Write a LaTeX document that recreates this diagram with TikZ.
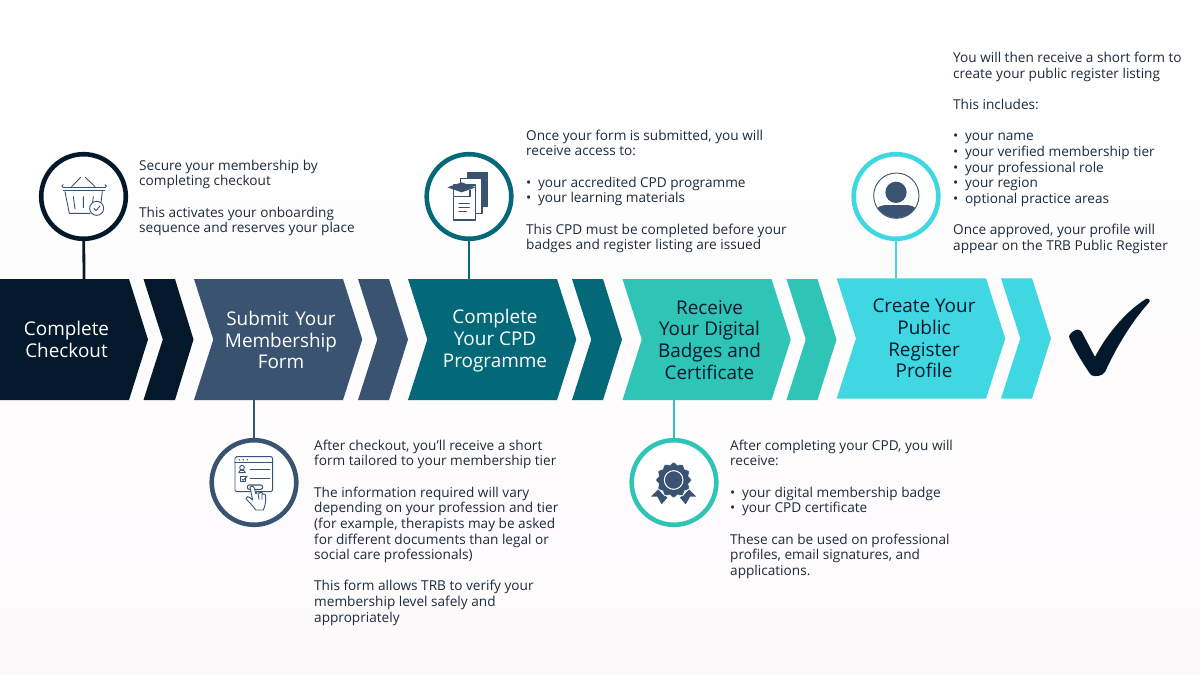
\documentclass[tikz,border=0pt]{standalone}
\usepackage{fontspec}
\setmainfont{Open Sans}
\definecolor{navy}{HTML}{03182B}
\definecolor{slate}{HTML}{3A5370}
\definecolor{tealc}{HTML}{036878}
\definecolor{greenc}{HTML}{2EC4B6}
\definecolor{cyanc}{HTML}{3FD8E2}
\definecolor{bodyc}{HTML}{1C2B3A}
\definecolor{bgmid}{HTML}{FDFCFB}
\definecolor{bgend}{HTML}{FDFAFC}
\newcommand{\chev}[5]{% left x, top y, bottom y, color, main width
 \pgfmathsetmacro{\ymid}{(#2+#3)/2}
 \fill[#4] (#1,#2) -- (#1+#5,#2) -- (#1+#5+19.3,\ymid) -- (#1+#5,#3) -- (#1,#3) -- (#1+19.3,\ymid) -- cycle;
 \fill[#4] (#1+#5+15,#2) -- (#1+#5+46,#2) -- (#1+#5+65,\ymid) -- (#1+#5+46,#3) -- (#1+#5+15,#3) -- (#1+#5+34.3,\ymid) -- cycle;
}
\newcommand{\bul}{\makebox[11.8pt][l]{•}}
\tikzset{
 x=1pt,y=-1pt,
 ring/.style={circle,draw=#1,line width=4.6pt,fill=white,minimum size=84.6pt,inner sep=0pt},
 link/.style={draw=#1,line width=2.8pt},
 title/.style={align=center,font=\fontsize{18.9}{21.8}\selectfont,text=#1,inner sep=0pt},
 body/.style={align=left,anchor=north west,inner sep=0pt,text=bodyc,font=\fontsize{13.62}{15.65}\selectfont},
 icon/.style={draw=slate,line width=0.9pt,line cap=round,line join=round},
 solid/.style={fill=slate,draw=none}
}
\begin{document}
\begin{tikzpicture}
\useasboundingbox (0,0) rectangle (1200,675);
\shade[top color=white,middle color=bgmid,bottom color=bgend] (0,0) rectangle (1200,675);

% chevrons
\fill[navy] (0,279) -- (129,279) -- (148,339.5) -- (129,400) -- (0,400) -- cycle;
\fill[navy] (143.5,279) -- (175,279) -- (193.5,339.5) -- (175,400) -- (143.5,400) -- (162.8,339.5) -- cycle;
\chev{194}{279}{400}{slate}{149}
\chev{408}{279}{400}{tealc}{149}
\chev{622.5}{279}{400}{greenc}{149}
\chev{836.7}{278.3}{398.5}{cyanc}{149.3}

% titles
\node[title=white] (s1) at (66.5,339.5) {Complete\\Checkout};
\node[title=white] (s2) at (281,340) {Submit\hspace{1.5pt} Your\\Membership\\Form};
\node[title=white] (s3) at (495,340.5) {Complete\\Your CPD\\Programme};
\node[title=navy] (s4) at (709.5,340) {Receive\\Your Digital\\Badges and\\Certificate};
\node[title=navy] (s5) at (924,338.5) {Create Your\\Public\\Register\\Profile};

% anchor points on the chevrons
\coordinate (a1) at (84,279);
\coordinate (a2) at (254,400);
\coordinate (a3) at (469,279);
\coordinate (a4) at (674,400);
\coordinate (a5) at (896,278.3);

% circles
\node[ring=navy] (c1) at (83.5,196.5) {};
\node[ring=slate] (c2) at (254,482.5) {};
\node[ring=tealc] (c3) at (469,196.5) {};
\node[ring=greenc] (c4) at (674,482.5) {};
\node[ring=cyanc] (c5) at (896,196.5) {};

\draw[link=navy] (c1) -- (a1);
\draw[link=slate] (c2) -- (a2);
\draw[link=tealc] (c3) -- (a3);
\draw[link=greenc] (c4) -- (a4);
\draw[link=cyanc] (c5) -- (a5);

% basket icon
\begin{scope}[shift={(30,145)},scale=0.33333]
 \draw[icon] (100,128) -- (225,128) (100,137) -- (225,137);
 \draw[icon] (100,128) arc (90:270:4.5);
 \draw[icon] (225,128) arc (90:-90:4.5);
 \draw[icon] (125,125) -- (152,97) (166,97) -- (195,125);
 \draw[icon] (105,140) -- (118,205) -- (180,205);
 \draw[icon] (217,140) -- (213,172);
 \draw[icon] (130,155) -- (135,192) (160,155) -- (160,188) (190,155) -- (188,170);
 \draw[icon,fill=white] (200,190) circle (21);
 \draw[icon] (192,190) -- (198,197) -- (210,183);
\end{scope}

% graduation icon
\begin{scope}[shift={(415,145)},scale=0.33333]
 \fill[slate] (155,82) rectangle (220,185);
 \draw[icon,fill=white,line width=1.1pt] (137,100) rectangle (201,206);
 \draw[icon,fill=white,line width=1.1pt] (116,120) rectangle (182,225);
 \draw[icon,fill=white,line width=1.1pt] (115,135) -- (115,155) -- (165,155) -- (165,135);
 \fill[slate] (97,127) -- (140,112) -- (182,127) -- (140,142) -- cycle;
 \draw[icon,line width=1.1pt] (132,175) -- (163,175) (132,187) -- (163,187) (132,200) -- (155,200);
\end{scope}

% form icon
\begin{scope}[shift={(200,430)},scale=0.33333]
 \draw[icon,rounded corners=1.5pt] (105,80) rectangle (218,185);
 \draw[icon] (105,98) -- (218,98);
 \fill[slate] (118,89) circle (2.5) (130,89) circle (2.5) (142,89) circle (2.5);
 \draw[icon] (126,113) circle (7);
 \draw[icon] (116,128) .. controls (116,118) and (136,118) .. (136,128) -- cycle;
 \draw[icon] (150,118) -- (210,118) (150,145) -- (210,145);
 \draw[icon] (120,140) rectangle (136,155);
 \draw[icon] (126,148) -- (130,151) -- (142,138);
 \draw[icon,fill=white,rounded corners=2pt,line width=1.1pt] (142,165) rectangle (188,178);
 \draw[icon,fill=white] (150,172) .. controls (152,166) and (160,166) .. (162,172) -- (168,192)
   -- (170,186) .. controls (173,182) and (177,184) .. (178,190) -- (181,188) .. controls (185,185) and (188,188) .. (189,193)
   .. controls (192,190) and (197,192) .. (197,197) .. controls (198,215) and (195,228) .. (190,240)
   -- (167,240) .. controls (160,228) and (148,218) .. (138,206) .. controls (137,198) and (146,198) .. (151,204) -- (158,210) -- cycle;
 \draw[icon] (174,190) -- (177,208) (186,192) -- (186,208);
\end{scope}

% badge icon
\begin{scope}[shift={(620,430)},scale=0.33333]
 \fill[slate] (115,178) -- (93,200) -- (112,200) -- (125,223) -- (142,203) -- cycle;
 \fill[slate] (207,178) -- (229,200) -- (210,200) -- (197,223) -- (180,203) -- cycle;
 \draw[white,line width=0.8pt] (112,172) -- (135,198) (210,172) -- (187,198);
 \fill[slate,draw=white,line width=0.5pt] plot[smooth cycle,samples=48,domain=0:352.5,variable=\t]
   ({161+(50+4*cos(12*\t))*cos(\t)},{150+(50+4*cos(12*\t))*sin(\t)});
 \draw[white,line width=1pt] (161,150) circle (28);
\end{scope}

% user icon
\begin{scope}[shift={(840,145)},scale=0.33333]
 \draw[slate,line width=0.9pt] (169,152) circle (68);
 \fill[slate] (168,142) circle (32);
 \begin{scope}
  \clip (169,152) circle (67);
  \fill[slate] (105,225) -- (108,195) .. controls (115,184) and (125,180) .. (135,180) -- (203,180) .. controls (213,180) and (223,184) .. (230,195) -- (233,225) -- cycle;
 \end{scope}
\end{scope}

% check mark
\fill[navy,rounded corners=1pt] (1081.5,331.5) .. controls (1079,329) and (1076,329.5) .. (1074,331) .. controls (1072,332) and (1069.5,334) .. (1069,337)
  .. controls (1072,345) and (1083,364) .. (1091,375) .. controls (1095,377) and (1103,376) .. (1105.5,371)
  .. controls (1116,348) and (1132,321) .. (1149.5,302) .. controls (1150,300) and (1148.5,298) .. (1146,299)
  .. controls (1128,310) and (1108,332) .. (1095,357) -- cycle;

% texts
\node[body] (t1) at (139,159.5) {Secure your membership by\\completing checkout\\[15.65pt]This activates your onboarding\\sequence and reserves your place};
\node[body] (t3) at (526,129.5) {Once your form is submitted, you will\\receive access to:\\[15.65pt]\bul your accredited CPD programme\\\bul your learning materials\\[15.65pt]This CPD must be completed before your\\badges and register listing are issued};
\node[body] (t5) at (953,52) {You will then receive a short form to\\create your public register listing\\[15.65pt]This includes:\\[15.65pt]\bul your name\\\bul your verified membership tier\\\bul your professional role\\\bul your region\\\bul optional practice areas\\[15.65pt]Once approved, your profile will\\appear on the TRB Public Register};
\node[body] (t2) at (314,439.5) {After checkout, you’ll receive a short\\form tailored to your membership tier\\[15.65pt]The information required will vary\\depending on your profession and tier\\(for example, therapists may be asked\\for different documents than legal or\\social care professionals)\\[15.65pt]This form allows TRB to verify your\\membership level safely and\\appropriately};
\node[body] (t4) at (730,439.5) {After completing your CPD, you will\\receive:\\[15.65pt]\bul your digital membership badge\\\bul your CPD certificate\\[15.65pt]These can be used on professional\\profiles, email signatures, and\\applications.};
\end{tikzpicture}
\end{document}
